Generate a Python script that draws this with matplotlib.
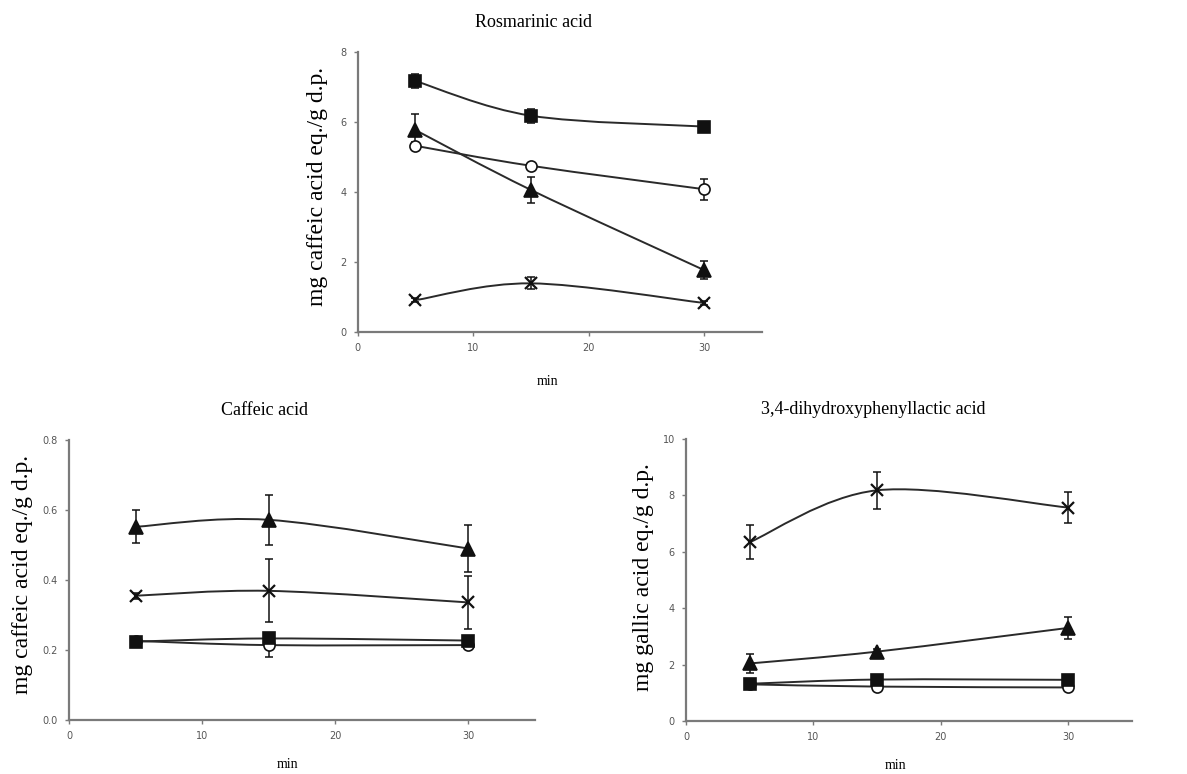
import numpy as np
import matplotlib
matplotlib.use("Agg")
import matplotlib.pyplot as plt
from matplotlib.path import Path
from matplotlib.patches import PathPatch

# ---------------- data ----------------
minutes = [5, 15, 30]

# Rosmarinic acid (mg caffeic acid eq./g d.p.)
ros_square = [7.17, 6.18, 5.87]
ros_square_err = [0.2, 0.2, 0.1]
ros_triangle = [5.77, 4.06, 1.77]
ros_triangle_err = [0.47, 0.38, 0.25]
ros_circle = [5.32, 4.75, 4.08]
ros_circle_err = [0.1, 0.08, 0.3]
ros_cross = [0.91, 1.39, 0.83]
ros_cross_err = [0.05, 0.17, 0.05]

# Caffeic acid (mg caffeic acid eq./g d.p.)
caf_square = [0.224, 0.233, 0.227]
caf_square_err = [0.01, 0.01, 0.01]
caf_triangle = [0.552, 0.572, 0.490]
caf_triangle_err = [0.047, 0.072, 0.068]
caf_circle = [0.226, 0.214, 0.214]
caf_circle_err = [0.01, 0.033, 0.01]
caf_cross = [0.355, 0.369, 0.336]
caf_cross_err = [0.008, 0.09, 0.076]

# 3,4-dihydroxyphenyllactic acid (mg gallic acid eq./g d.p.)
dhp_square = [1.32, 1.47, 1.46]
dhp_square_err = [0.05, 0.05, 0.05]
dhp_triangle = [2.04, 2.46, 3.30]
dhp_triangle_err = [0.33, 0.1, 0.4]
dhp_circle = [1.30, 1.22, 1.19]
dhp_circle_err = [0.05, 0.05, 0.05]
dhp_cross = [6.34, 8.18, 7.57]
dhp_cross_err = [0.6, 0.66, 0.56]

titles = ["Rosmarinic acid", "Caffeic acid", "3,4-dihydroxyphenyllactic acid"]
ylabels = ["mg caffeic acid eq./g d.p.", "mg caffeic acid eq./g d.p.",
           "mg gallic acid eq./g d.p."]
xlabel = "min"
xticks = [0, 10, 20, 30]
yticks_ros = [0, 2, 4, 6, 8]
yticks_caf = [0.0, 0.2, 0.4, 0.6, 0.8]
yticks_dhp = [0, 2, 4, 6, 8, 10]

SERIF = ["Liberation Serif", "DejaVu Serif"]


def smooth_path(x, y):
    """Catmull-Rom style cubic Bezier through the points (Excel-like smoothing)."""
    pts = np.column_stack([x, y]).astype(float)
    n = len(pts)
    verts = [pts[0]]
    codes = [Path.MOVETO]
    for i in range(n - 1):
        p0 = pts[i - 1] if i > 0 else pts[i]
        p1 = pts[i]
        p2 = pts[i + 1]
        p3 = pts[i + 2] if i + 2 < n else pts[i + 1]
        c1 = p1 + (p2 - p0) / 6.0
        c2 = p2 - (p3 - p1) / 6.0
        verts += [c1, c2, p2]
        codes += [Path.CURVE4] * 3
    return Path(verts, codes)


def draw_series(ax, y, yerr, marker, filled, ms):
    patch = PathPatch(smooth_path(minutes, y), facecolor="none",
                      edgecolor="#2a2a2a", lw=1.4, zorder=2)
    ax.add_patch(patch)
    ax.errorbar(minutes, y, yerr=yerr, fmt="none", ecolor="#111111",
                elinewidth=1.1, capsize=3, capthick=1.1, zorder=3)
    if marker == "x":
        ax.plot(minutes, y, ls="none", marker="x", ms=ms, mew=1.6,
                color="#111111", zorder=4)
    else:
        ax.plot(minutes, y, ls="none", marker=marker, ms=ms,
                mfc="#111111" if filled else "white", mec="#111111",
                mew=1.2, zorder=4)


def style_axes(ax, yticks, yfmt, title, ylabel, tx):
    ax.set_xlim(0, 35)
    ax.set_ylim(yticks[0], yticks[-1])
    ax.set_xticks(xticks)
    ax.set_yticks(yticks)
    ax.set_yticklabels([yfmt.format(v) for v in yticks])
    for s in ["top", "right"]:
        ax.spines[s].set_visible(False)
    for s in ["left", "bottom"]:
        ax.spines[s].set_color("#7a7a7a")
        ax.spines[s].set_linewidth(1.6)
        ax.spines[s].set_clip_on(False)
    ax.tick_params(axis="both", colors="#7a7a7a", labelcolor="#555555",
                   labelsize=7, length=3, width=1, direction="out", pad=5)
    ax.set_title(title, fontfamily=SERIF, fontsize=13, x=tx, pad=18)
    ax.set_xlabel(xlabel, fontfamily=SERIF, fontsize=10)
    ax.xaxis.set_label_coords(0.47, -0.135)
    ax.set_ylabel(ylabel, fontfamily=SERIF, fontsize=17, va="center")
    ax.patch.set_visible(False)


fig = plt.figure(figsize=(11.87, 7.74), dpi=100)
W, H = 1187.0, 774.0


def axes_px(x0, x1, ytop, ybot):
    return fig.add_axes([x0 / W, 1 - ybot / H, (x1 - x0) / W, (ybot - ytop) / H])


ax1 = axes_px(357.7, 761.7, 52, 332)
ax2 = axes_px(69, 534.5, 440, 720)
ax3 = axes_px(686, 1131.6, 439, 721)

MS = 9
for ax, sq, sqe, tr, tre, ci, cie, cr, cre in [
    (ax1, ros_square, ros_square_err, ros_triangle, ros_triangle_err,
     ros_circle, ros_circle_err, ros_cross, ros_cross_err),
    (ax2, caf_square, caf_square_err, caf_triangle, caf_triangle_err,
     caf_circle, caf_circle_err, caf_cross, caf_cross_err),
    (ax3, dhp_square, dhp_square_err, dhp_triangle, dhp_triangle_err,
     dhp_circle, dhp_circle_err, dhp_cross, dhp_cross_err),
]:
    draw_series(ax, ci, cie, "o", False, MS - 1)
    draw_series(ax, sq, sqe, "s", True, MS)
    draw_series(ax, tr, tre, "^", True, MS + 1)
    draw_series(ax, cr, cre, "x", False, MS)

style_axes(ax1, yticks_ros, "{:g}", titles[0], ylabels[0], 0.434)
style_axes(ax2, yticks_caf, "{:.1f}", titles[1], ylabels[1], 0.421)
style_axes(ax3, yticks_dhp, "{:g}", titles[2], ylabels[2], 0.42)

ax1.yaxis.set_label_coords(-0.099, 0.52)
ax2.yaxis.set_label_coords(-0.099, 0.52)
ax3.yaxis.set_label_coords(-0.096, 0.51)
ax1.xaxis.set_label_coords(0.47, -0.155)

fig.savefig("out.png", dpi=100)
